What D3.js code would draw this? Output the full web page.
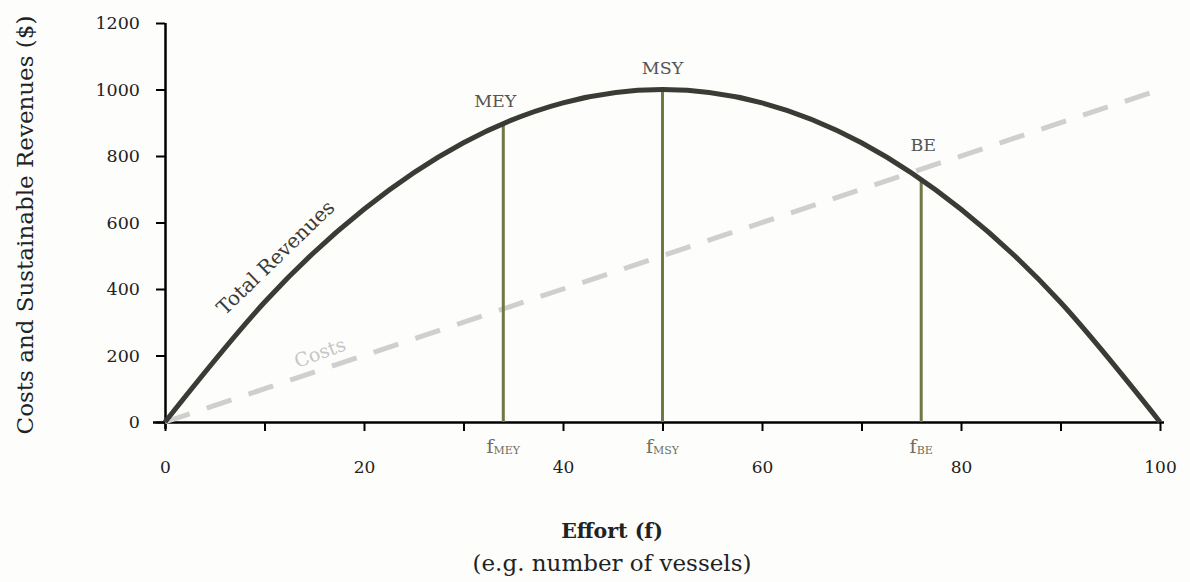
<!DOCTYPE html>
<html>
<head>
<meta charset="utf-8">
<script src="https://cdn.jsdelivr.net/npm/d3@7"></script>
<style>
  body { margin: 0; background: #fdfdfb; }
  text { font-family: "DejaVu Serif", serif; }
</style>
</head>
<body>
<div id="chart"></div>
<script>
// data
const effort = [0, 10, 20, 30, 40, 50, 60, 70, 80, 90, 100];
const revenues = [0, 360, 640, 840, 960, 1000, 960, 840, 640, 360, 0];
const costEffort = [0, 100];
const costs = [0, 1000];
const markerNames = ["MEY", "MSY", "BE"];
const markerEffort = [34, 50, 76];
const markerValue = [898, 1000, 732];
const xTicks = [0, 10, 20, 30, 40, 50, 60, 70, 80, 90, 100];
const xLabels = [0, 20, 40, 60, 80, 100];
const yTicks = [0, 200, 400, 600, 800, 1000, 1200];

const width = 1190, height = 582;
const margin = { top: 23, right: 30, bottom: 160, left: 165 };

const svg = d3.select("#chart")
  .append("svg")
  .attr("width", width)
  .attr("height", height);

const x = d3.scaleLinear().domain([0, 100]).range([margin.left, 1160]);
const y = d3.scaleLinear().domain([0, 1200]).range([422, margin.top]);

// axes
const xAxis = svg.append("g")
  .attr("transform", `translate(0,${y(0)})`)
  .call(d3.axisBottom(x).tickValues(xTicks).tickSize(9).tickSizeOuter(0)
    .tickFormat(d => xLabels.includes(d) ? d : ""));
xAxis.select(".domain").attr("stroke-width", 2.5).attr("d", `M${x(0) - 12},0.5H${x(100) + 4}`);
xAxis.selectAll(".tick line").attr("stroke-width", 2);
xAxis.selectAll(".tick text")
  .attr("dy", 0)
  .attr("y", 51)
  .attr("font-size", 17)
  .attr("fill", "#222")
  .style("font-family", "DejaVu Serif, serif");

const yAxis = svg.append("g")
  .attr("transform", `translate(${x(0)},0)`)
  .call(d3.axisLeft(y).tickValues(yTicks).tickSize(9).tickSizeOuter(0).tickFormat(d3.format("d")));
yAxis.select(".domain").attr("stroke-width", 2.5).attr("d", `M0.5,${y(1200)}V${y(0) + 7}`);
yAxis.selectAll(".tick line").attr("stroke-width", 2);
yAxis.selectAll(".tick text")
  .attr("x", -25)
  .attr("font-size", 17.5)
  .attr("fill", "#222")
  .style("font-family", "DejaVu Serif, serif");

// costs line (dashed)
const costData = costEffort.map((f, i) => ({ f: f, v: costs[i] }));
svg.append("path")
  .datum(costData)
  .attr("fill", "none")
  .attr("stroke", "#cfcfcf")
  .attr("stroke-width", 5)
  .attr("stroke-dasharray", "26,18")
  .attr("d", d3.line().x(d => x(d.f)).y(d => y(d.v)));

// marker vertical lines
const markers = markerNames.map((n, i) => ({ name: n, f: markerEffort[i], v: markerValue[i] }));
svg.selectAll(".marker-line")
  .data(markers)
  .enter()
  .append("line")
  .attr("class", "marker-line")
  .attr("x1", d => x(d.f))
  .attr("x2", d => x(d.f))
  .attr("y1", y(0))
  .attr("y2", d => y(d.v))
  .attr("stroke", "#6e7a45")
  .attr("stroke-width", 3);

// total revenues curve
const revData = effort.map((f, i) => ({ f: f, v: revenues[i] }));
svg.append("path")
  .datum(revData)
  .attr("fill", "none")
  .attr("stroke", "#3b3b35")
  .attr("stroke-width", 5)
  .attr("d", d3.line().x(d => x(d.f)).y(d => y(d.v)).curve(d3.curveNatural));

// marker labels
svg.selectAll(".marker-label")
  .data(markers)
  .enter()
  .append("text")
  .attr("class", "marker-label")
  .attr("x", d => x(d.f) + (d.name === "MEY" ? -8 : (d.name === "BE" ? 2 : 0)))
  .attr("y", d => y(d.v) - (d.name === "BE" ? 28 : 16))
  .attr("text-anchor", "middle")
  .attr("font-size", 17.5)
  .attr("fill", "#555")
  .text(d => d.name);

// f labels under axis
const fLabels = svg.selectAll(".f-label")
  .data(markers)
  .enter()
  .append("text")
  .attr("class", "f-label")
  .attr("x", d => x(d.f))
  .attr("y", 453)
  .attr("text-anchor", "middle")
  .attr("font-size", 19)
  .attr("fill", "#6f6f5f");
fLabels.append("tspan").text("f");
fLabels.append("tspan")
  .attr("font-size", 11)
  .attr("dy", 1)
  .text(d => d.name);

// curve labels
svg.append("text")
  .attr("transform", `translate(${x(11.6)},${y(480)}) rotate(-44)`)
  .attr("text-anchor", "middle")
  .attr("font-size", 20)
  .attr("fill", "#3b3b35")
  .text("Total Revenues");

svg.append("text")
  .attr("transform", `translate(${x(15.8)},${y(190)}) rotate(-20)`)
  .attr("text-anchor", "middle")
  .attr("font-size", 19)
  .attr("fill", "#c6c6c6")
  .text("Costs");

// axis titles
svg.append("text")
  .attr("transform", "translate(33,225) rotate(-90)")
  .attr("text-anchor", "middle")
  .attr("font-size", 23)
  .attr("fill", "#222")
  .text("Costs and Sustainable Revenues ($)");

svg.append("text")
  .attr("x", 612)
  .attr("y", 538)
  .attr("text-anchor", "middle")
  .attr("font-size", 20.5)
  .attr("font-weight", "bold")
  .attr("fill", "#222")
  .text("Effort (f)");

svg.append("text")
  .attr("x", 612)
  .attr("y", 571)
  .attr("text-anchor", "middle")
  .attr("font-size", 23)
  .attr("fill", "#222")
  .text("(e.g. number of vessels)");
</script>
</body>
</html>
